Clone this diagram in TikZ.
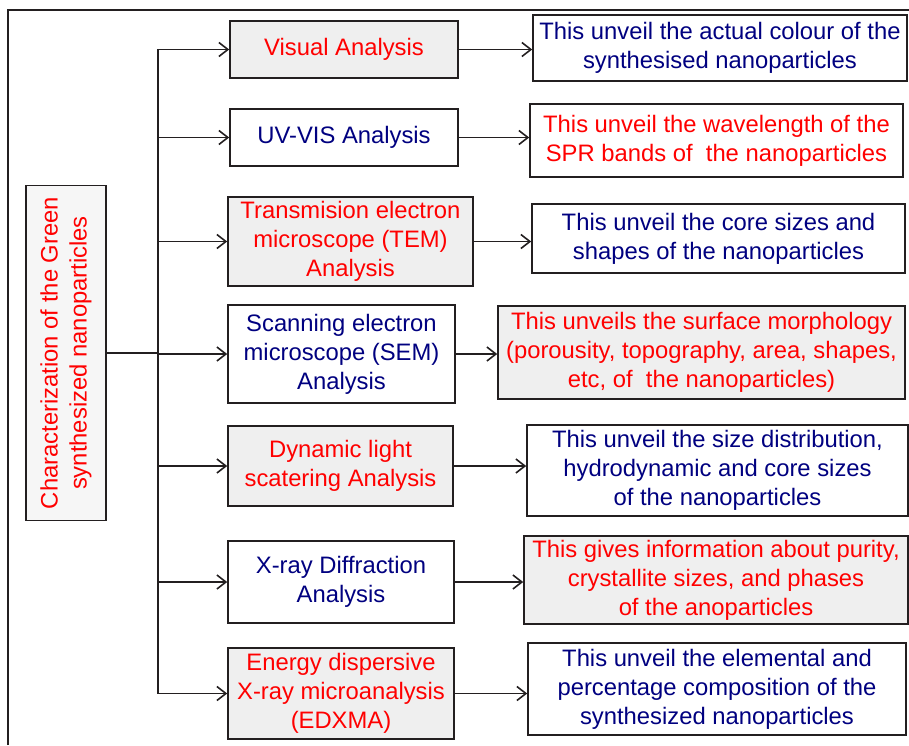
\documentclass[tikz,border=0pt]{standalone}
\usepackage{fontspec}
\setmainfont{Liberation Sans}
\usetikzlibrary{shapes,arrows.meta}
\definecolor{navytext}{RGB}{0,0,128}
\definecolor{redtext}{RGB}{255,0,0}
\definecolor{boxgray}{RGB}{239,239,239}
\definecolor{leftgray}{RGB}{246,246,246}
\definecolor{linegray}{RGB}{35,31,32}
\tikzstyle{block} = [draw=linegray, rectangle, line width=1.6pt, fill=white,
    text=navytext, align=center, inner sep=1pt,
    font=\fontsize{23.8}{29}\selectfont]
\tikzstyle{redblock} = [block, fill=boxgray, text=redtext]
\tikzstyle{link} = [coordinate]

\begin{document}
\begin{tikzpicture}[x=1pt, y=-1pt, line width=1.6pt, draw=linegray,
    >={Straight Barb[length=9pt, width=14pt]}]
    \useasboundingbox (0,0) rectangle (909,745);
    % outer frame, open to the right and below
    \draw [linegray] (8,745) -- (8,10) -- (909,10);

    % We start by placing the blocks
    \node [redblock, fill=leftgray, rotate=90, minimum width=335pt,
        minimum height=80pt] (charac) at (66,353)
        {Characterization of the Green\\synthesized nanoparticles};
    \node [link] (split) at (158,353) {};

    % the analyses
    \node [redblock, minimum width=228pt, minimum height=57pt]
        (visual) at (344,49.5) {Visual Analysis};
    \node [block, minimum width=228pt, minimum height=57pt]
        (uvvis) at (344,137.5) {UV-VIS Analysis};
    \node [redblock, minimum width=245pt, minimum height=89pt]
        (tem) at (350.5,241.5) {Transmision electron\\microscope (TEM)\\Analysis};
    \node [block, minimum width=227pt, minimum height=98pt]
        (sem) at (341.5,354) {Scanning electron\\microscope (SEM)\\Analysis};
    \node [redblock, minimum width=225pt, minimum height=80pt]
        (dls) at (340.5,466) {Dynamic light\\scatering Analysis};
    \node [block, minimum width=226pt, minimum height=82pt]
        (xrd) at (341,582) {X-ray Diffraction\\Analysis};
    \node [redblock, minimum width=226pt, minimum height=91pt]
        (edxma) at (341,693.5) {Energy dispersive\\X-ray microanalysis\\(EDXMA)};

    % what each analysis tells
    \node [block, minimum width=374pt, minimum height=66pt]
        (colour) at (720,48) {This unveil the actual colour of the\\synthesised nanoparticles};
    \node [block, text=redtext, minimum width=373pt, minimum height=73pt]
        (spr) at (716.5,140.5) {This unveil the wavelength of the\\SPR bands of \ the nanoparticles};
    \node [block, minimum width=373pt, minimum height=69pt]
        (core) at (718.5,238.5) {This unveil the core sizes and\\shapes of the nanoparticles};
    \node [redblock, minimum width=407pt, minimum height=93pt]
        (surface) at (701.5,352.5) {This unveils the surface morphology\\(porousity, topography, area, shapes,\\etc, of \ the nanoparticles)};
    \node [block, minimum width=381pt, minimum height=91pt]
        (sizes) at (717.5,470.5) {This unveil the size distribution,\\hydrodynamic and core sizes\\of the nanoparticles};
    \node [redblock, minimum width=384pt, minimum height=88pt]
        (purity) at (716,580) {This gives information about purity,\\crystallite sizes, and phases\\of the anoparticles};
    \node [block, minimum width=378pt, minimum height=92pt]
        (elements) at (717,689) {This unveil the elemental and\\percentage composition of the\\synthesized nanoparticles};

    % Once the nodes are placed, connecting them is easy.
    \draw (charac) -- (split);
    \foreach \m in {visual,uvvis,tem,sem,dls,xrd,edxma}
        \draw [->] (split) |- (\m);
    \draw [->] (visual) -- (visual -| colour.west);
    \draw [->] (uvvis) -- (uvvis -| spr.west);
    \draw [->] (tem) -- (tem -| core.west);
    \draw [->] (sem) -- (sem -| surface.west);
    \draw [->] (dls) -- (dls -| sizes.west);
    \draw [->] (xrd) -- (xrd -| purity.west);
    \draw [->] (edxma) -- (edxma -| elements.west);
\end{tikzpicture}
\end{document}
